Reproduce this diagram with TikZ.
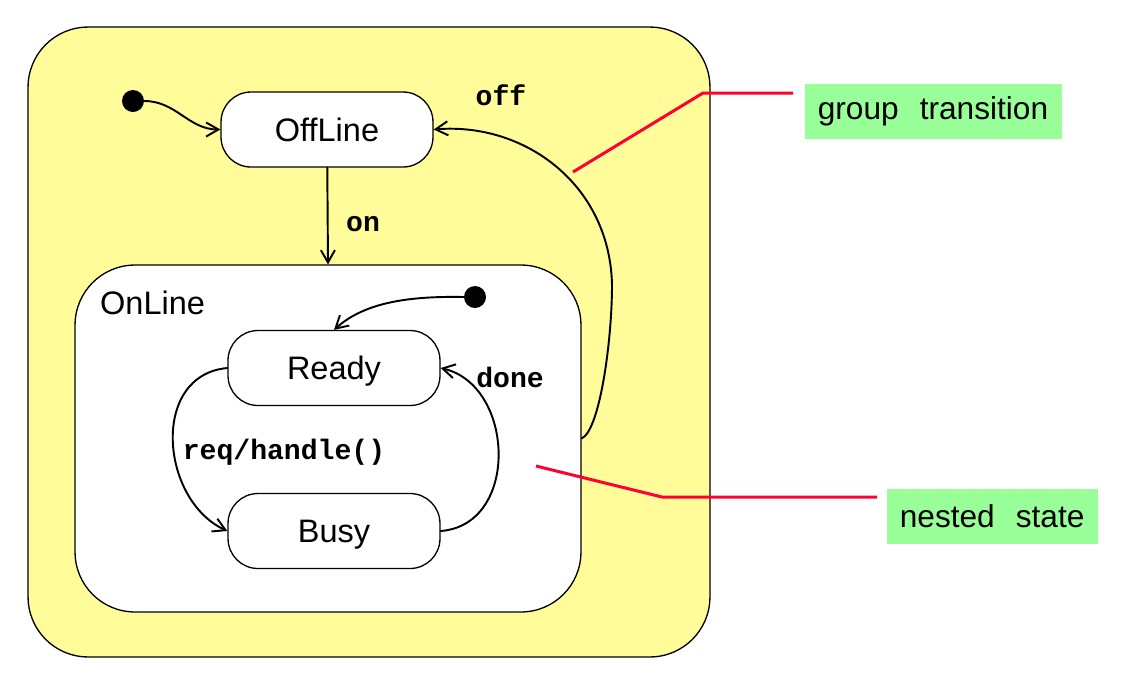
\documentclass[tikz,border=0pt]{standalone}
\usepackage{fontspec}
\setmainfont{Liberation Sans}
\setmonofont{Liberation Mono}
\usetikzlibrary{arrows.meta}
\definecolor{groupyellow}{HTML}{FFFC99}
\definecolor{notegreen}{HTML}{99FF99}
\definecolor{notered}{HTML}{FF0033}
\begin{document}
\begin{tikzpicture}[x=0.02cm,y=-0.02cm,line join=round,line cap=round,>={Straight Barb[length=7pt,width=8pt]}]
	\tikzset{state/.style={draw,line width=0.75pt,rounded corners=0.6cm,fill=white,minimum width=4.24cm,minimum height=1.5cm,text depth=0pt,font=\fontsize{18.5}{22}\selectfont},
		region/.style={draw,line width=0.75pt,rounded corners=1.2cm},
		initial/.style={circle,fill=black,inner sep=0pt,minimum size=0.44cm},
		trans/.style={->,line width=1.1pt},
		event/.style={font=\fontsize{16}{19}\ttfamily\bfseries},
		note/.style={fill=notegreen,anchor=west,inner xsep=0.25cm,minimum height=1.1cm,align=left,font=\fontsize{18}{22}\selectfont},
		pointer/.style={draw=notered,line width=1.7pt,line cap=butt}}
	\useasboundingbox (0,0) rectangle (1142,674);
	% nested regions
	\node[region,fill=groupyellow,minimum width=13.64cm,minimum height=12.6cm] (Group) at (369,342) {};
	\node[region,fill=white,minimum width=10.12cm,minimum height=6.94cm] (OnLine) at (328,438.5) {};
	\node[anchor=west,font=\fontsize{18.5}{22}\selectfont] (OnLineName) at (94,303) {OnLine};
	% states
	\node[state] (OffLine) at (327,129.5) {OffLine};
	\node[state] (Ready) at (334,368) {Ready};
	\node[state] (Busy) at (334,531) {Busy};
	\node[initial] (init1) at (133,101) {};
	\node[initial] (init2) at (475,297) {};
	% transitions
	\draw[trans] (init1) to[out=0,in=180] (OffLine.west);
	\draw[trans] (OffLine) -- (OnLine.north);
	\node[event] (on) at (363,224) {on};
	\draw[trans] (OnLine.east) .. controls (600,430) and (612,340) .. (612,285)
		.. controls (610,185) and (525,122) .. (OffLine.east);
	\node[event] (off) at (501,95) {off};
	\draw[trans] (init2.west) .. controls (410,296) and (365,302) .. (Ready.north);
	\draw[trans] (Ready.west) .. controls (150,375) and (160,500) .. (Busy.west);
	\node[event] (req) at (284,452) {req/handle()};
	\draw[trans] (Busy.east) .. controls (520,525) and (515,385) .. (Ready.east);
	\node[event] (done) at (510,377) {done};
	% notes
	\node[note,text width=4.64cm] (gtNote) at (805,111.5) {group\ \ transition};
	\node[note,text width=3.72cm] (nsNote) at (887,516.5) {nested\ \ state};
	\coordinate (gtTip) at (573,172);
	\coordinate (gtBend) at (703,93);
	\coordinate (nsTip) at (536,466);
	\coordinate (nsBend) at (662,497);
	\draw[pointer] (gtTip) -- (gtBend) -- ([xshift=-0.24cm]gtNote.west |- gtBend);
	\draw[pointer] (nsTip) -- (nsBend) -- ([xshift=-0.2cm]nsNote.west |- nsBend);
\end{tikzpicture}
\end{document}
